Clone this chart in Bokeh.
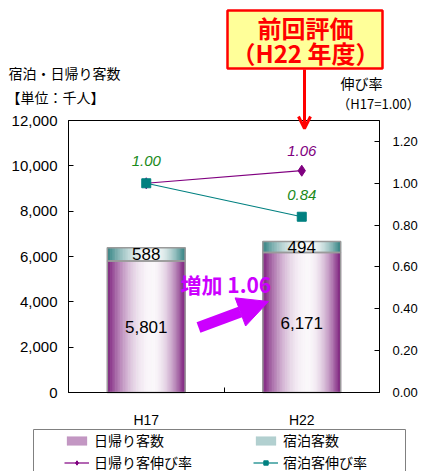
from bokeh.plotting import figure
from bokeh.models import (Range1d, LinearAxis, FixedTicker, NumeralTickFormatter, Label,
                          Arrow, OpenHead, NormalHead, BoxAnnotation, Legend, LegendItem,
                          ColumnDataSource)
from bokeh.core.properties import value
from bokeh.embed import file_html
from bokeh.resources import INLINE

# ---- data ----
categories = ["H17", "H22"]
day_visitors = [5801, 6171]      # 日帰り客数 (千人)
stay_visitors = [588, 494]       # 宿泊客数 (千人)
day_rate = [1.00, 1.06]          # 日帰り客伸び率
stay_rate = [1.00, 0.84]         # 宿泊客伸び率
left_ticks = [0, 2000, 4000, 6000, 8000, 10000, 12000]
right_ticks = [0.0, 0.2, 0.4, 0.6, 0.8, 1.0, 1.2]
left_max = 12000
right_max = 1.3
increase_text = "増加 1.06"
callout_lines = ["前回評価", "（H22 年度）"]

JP = "Noto Sans CJK JP"
NUM = "Liberation Sans"
PURPLE = "#800080"
TEAL = "#008080"
GREEN = "#1A8A1A"
MAGENTA = "#CC00FF"
RED = "#FF0000"

# ---- layout (pixels) ----
W, H = 422, 471
PL, PR, PT, PB = 68, 379, 120, 392   # plot area in canvas pixels

ncat = len(categories)
xs = [i + 0.5 for i in range(ncat)]
bar_w = 0.5


def span(lo_px, hi_px, v0, v1, full):
    # data range covering the whole canvas so that v0..v1 maps to lo_px..hi_px
    per = (v1 - v0) / (hi_px - lo_px)
    return v0 - lo_px * per, v1 + (full - hi_px) * per


xr0, xr1 = span(PL, PR, 0, ncat, W)
yr0, yr1 = span(H - PB, H - PT, 0, left_max, H)
rr0, rr1 = span(H - PB, H - PT, 0, right_max, H)

p = figure(width=W, height=H, x_range=Range1d(xr0, xr1), y_range=Range1d(yr0, yr1),
           output_backend="svg", toolbar_location=None,
           min_border=0, min_border_left=0, min_border_right=0, min_border_top=0,
           min_border_bottom=0)
p.extra_y_ranges = {"rate": Range1d(rr0, rr1)}
p.xgrid.visible = False
p.ygrid.visible = False
p.outline_line_color = None
p.background_fill_color = "white"
p.border_fill_color = "white"
p.xaxis.visible = False
p.yaxis.visible = False

# axes, fixed onto the plot area's edges
xa = LinearAxis(fixed_location=0, bounds=(0, ncat),
                ticker=FixedTicker(ticks=xs, minor_ticks=[i for i in range(1, ncat)]))
xa.major_label_overrides = {x: c for x, c in zip(xs, categories)}
xa.major_tick_in = 0
xa.major_tick_out = 0
xa.minor_tick_in = 5
xa.minor_tick_out = 0
xa.major_label_standoff = 19
xa.major_label_text_font = NUM
xa.major_label_text_font_size = "14px"
xa.major_label_text_color = "black"
xa.axis_line_color = "black"
p.add_layout(xa, "below")

ya = LinearAxis(fixed_location=0, bounds=(0, left_max), ticker=FixedTicker(ticks=left_ticks),
                formatter=NumeralTickFormatter(format="0,0"))
ya.major_tick_in = 5
ya.major_tick_out = 0
ya.minor_tick_line_color = None
ya.major_label_standoff = 11
ya.major_label_text_font = NUM
ya.major_label_text_font_size = "15px"
ya.major_label_text_color = "black"
ya.axis_line_color = "black"
p.add_layout(ya, "left")

ra = LinearAxis(fixed_location=ncat, bounds=(0, right_max), y_range_name="rate",
                ticker=FixedTicker(ticks=right_ticks), formatter=NumeralTickFormatter(format="0.00"))
ra.major_tick_in = 5
ra.major_tick_out = 0
ra.minor_tick_line_color = None
ra.major_label_standoff = 13
ra.major_label_text_font = NUM
ra.major_label_text_font_size = "13px"
ra.major_label_text_color = "black"
ra.axis_line_color = "black"
p.add_layout(ra, "right")


# ---- gradient bars built from stripes ----
def blend(c, s):
    r, g, b = int(c[1:3], 16), int(c[3:5], 16), int(c[5:7], 16)
    return "#%02x%02x%02x" % (int(r + (255 - r) * s), int(g + (255 - g) * s), int(b + (255 - b) * s))


def whiteness(t, peak=0.58):
    d = (t - peak) / peak if t < peak else (t - peak) / (1 - peak)
    return max(0.0, 1 - d * d) * 0.97


N = 48


def stripes(bottoms, tops, edge):
    sx, sw, sb, st, sc = [], [], [], [], []
    for x, b, t_ in zip(xs, bottoms, tops):
        for k in range(N):
            t = (k + 0.5) / N
            sx.append(x - bar_w / 2 + t * bar_w)
            sw.append(bar_w / N * 1.3)
            sb.append(b)
            st.append(t_)
            sc.append(blend(edge, whiteness(t)))
    return ColumnDataSource(dict(x=sx, w=sw, b=sb, t=st, c=sc))


tops = [d + s for d, s in zip(day_visitors, stay_visitors)]
day_r = p.vbar(x="x", width="w", bottom="b", top="t", fill_color="c", line_color="c", line_width=0.3,
               source=stripes([0] * ncat, day_visitors, "#7A1A7A"))
stay_r = p.vbar(x="x", width="w", bottom="b", top="t", fill_color="c", line_color="c", line_width=0.3,
                source=stripes(day_visitors, tops, "#2E8080"))

p.vbar(x=xs, width=bar_w, bottom=0, top=day_visitors, fill_alpha=0, line_color="#9A9A9A", line_width=1.5)
p.vbar(x=xs, width=bar_w, bottom=day_visitors, top=tops, fill_alpha=0, line_color="#9A9A9A", line_width=1.5)

p.text(x=xs, y=[d / 2 for d in day_visitors], text=[f"{v:,}" for v in day_visitors],
       text_align="center", text_baseline="middle", text_font=value(NUM), text_font_size="17px",
       text_color="black")
p.text(x=xs, y=[d + s / 2 for d, s in zip(day_visitors, stay_visitors)],
       text=[f"{v:,}" for v in stay_visitors],
       text_align="center", text_baseline="middle", text_font=value(NUM), text_font_size="17px",
       text_color="black")

# plot-area border
p.add_layout(BoxAnnotation(left=0, right=ncat, bottom=0, top=left_max, fill_alpha=0,
                           line_color="black", line_width=1, line_alpha=1))

# ---- rate lines ----
l_day = p.line(x=xs, y=day_rate, y_range_name="rate", line_color=PURPLE, line_width=1.2)
m_day = p.scatter(x=xs, y=day_rate, y_range_name="rate", marker="diamond", size=11,
                  fill_color=PURPLE, line_color=PURPLE)
l_stay = p.line(x=xs, y=stay_rate, y_range_name="rate", line_color=TEAL, line_width=1.2)
m_stay = p.scatter(x=xs, y=stay_rate, y_range_name="rate", marker="square", size=9,
                   fill_color=TEAL, line_color=TEAL)

p.text(x=xs, y=stay_rate, text=[f"{v:.2f}" for v in stay_rate], y_range_name="rate",
       y_offset=-22, text_align="center", text_baseline="middle", text_font=value(NUM),
       text_font_size="15px", text_font_style="italic", text_color=GREEN)
p.text(x=xs[1:], y=day_rate[1:], text=[f"{v:.2f}" for v in day_rate[1:]], y_range_name="rate",
       y_offset=-20, text_align="center", text_baseline="middle", text_font=value(NUM),
       text_font_size="15px", text_font_style="italic", text_color=PURPLE)


def lab(px, py, text, size, align="left", color="black", bold=False):
    p.add_layout(Label(x=px, y=H - py, x_units="screen", y_units="screen", text=text,
                       text_font=JP, text_font_size=size, text_align=align,
                       text_baseline="middle", text_color=color,
                       text_font_style="bold" if bold else "normal"))


# ---- increase arrow ----
p.add_layout(Arrow(start_units="screen", end_units="screen", x_start=198, y_start=H - 327,
                   x_end=268, y_end=H - 301, line_color=MAGENTA, line_width=11,
                   end=NormalHead(size=30, fill_color=MAGENTA, line_color=MAGENTA)))
lab(180, 283, increase_text, "21px", color=MAGENTA, bold=True)

# ---- titles ----
lab(8, 72, "宿泊・日帰り客数", "14px")
lab(6, 96, "【単位：千人】", "14px")
lab(361, 82, "伸び率", "14px", align="center")
lab(378, 103, "（H17=1.00）", "13px", align="center")

# ---- callout box ----
p.add_layout(BoxAnnotation(left=227, right=382, top=H - 10, bottom=H - 68, left_units="screen",
                           right_units="screen", top_units="screen", bottom_units="screen",
                           fill_color="#FFFF99", fill_alpha=1, line_color=RED, line_width=2.5,
                           line_alpha=1))
lab(305, 27, callout_lines[0], "24px", align="center", color=RED, bold=True)
lab(305, 52, callout_lines[1], "24px", align="center", color=RED, bold=True)
p.add_layout(Arrow(start_units="screen", end_units="screen", x_start=304, y_start=H - 69,
                   x_end=304, y_end=H - 128, line_color=RED, line_width=3,
                   end=OpenHead(size=12, line_color=RED, line_width=3)))

# ---- legend ----
p.add_layout(BoxAnnotation(left=33, right=405, top=H - 429, bottom=-20, left_units="screen",
                           right_units="screen", top_units="screen", bottom_units="screen",
                           fill_alpha=0, line_color="#808080", line_width=1, line_alpha=1))
legend = Legend(items=[
    LegendItem(label="日帰り客数", renderers=[day_r], index=9),
    LegendItem(label="宿泊客数", renderers=[stay_r], index=11),
    LegendItem(label="日帰り客伸び率", renderers=[l_day, m_day]),
    LegendItem(label="宿泊客伸び率", renderers=[l_stay, m_stay]),
], location=(64, H - 434 - 38), orientation="horizontal", ncols=2, padding=0, margin=0,
    glyph_width=25, glyph_height=11, label_standoff=5, label_width=157, label_height=18,
    spacing=2, border_line_alpha=0, background_fill_alpha=0,
    label_text_font=JP, label_text_font_size="14px", label_text_color="black")
p.add_layout(legend)

open("out.html", "w").write(file_html(p, INLINE))
